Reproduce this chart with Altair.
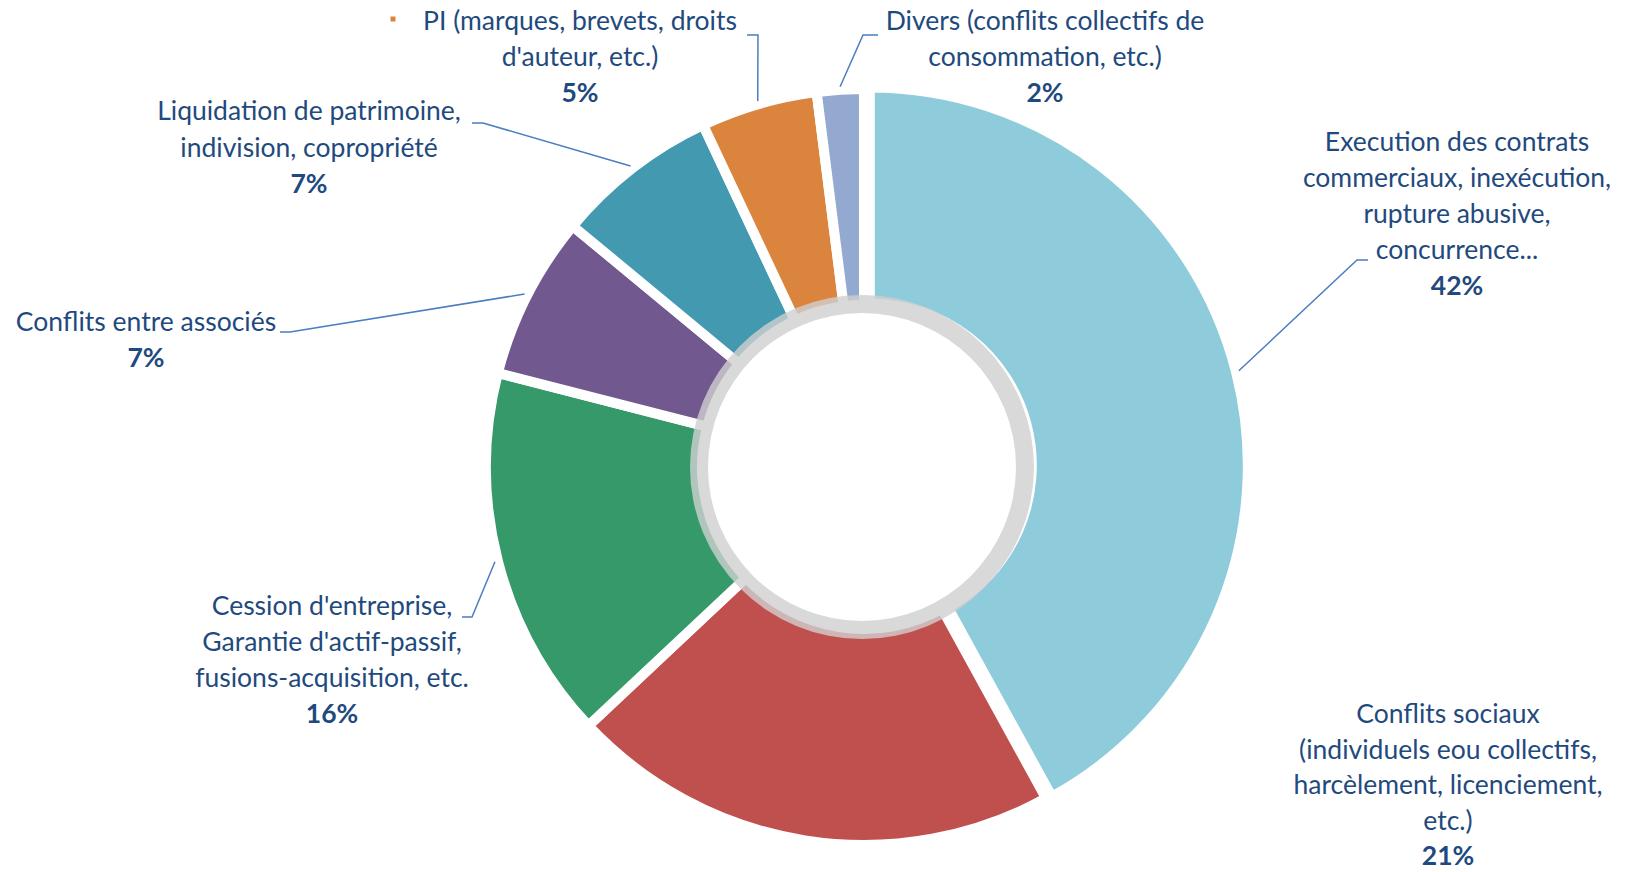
import altair as alt
import pandas as pd
import numpy as np

# ---------------- data ----------------
categories = [
    "Execution des contrats commerciaux, inexécution, rupture abusive, concurrence...",
    "Conflits sociaux (individuels eou collectifs, harcèlement, licenciement, etc.)",
    "Cession d'entreprise, Garantie d'actif-passif, fusions-acquisition, etc.",
    "Conflits entre associés",
    "Liquidation de patrimoine, indivision, copropriété",
    "PI (marques, brevets, droits d'auteur, etc.)",
    "Divers (conflits collectifs de consommation, etc.)",
]
values = [42, 21, 16, 7, 7, 5, 2]
pct_labels = ["42%", "21%", "16%", "7%", "7%", "5%", "2%"]
label_lines = [
    ["Execution des contrats", "commerciaux, inexécution,", "rupture abusive,", "concurrence..."],
    ["Conflits sociaux", "(individuels eou collectifs,", "harcèlement, licenciement,", "etc.)"],
    ["Cession d'entreprise,", "Garantie d'actif-passif,", "fusions-acquisition, etc."],
    ["Conflits entre associés"],
    ["Liquidation de patrimoine,", "indivision, copropriété"],
    ["PI (marques, brevets, droits", "d'auteur, etc.)"],
    ["Divers (conflits collectifs de", "consommation, etc.)"],
]
colors = ["#8ECBDB", "#C0504D", "#35996A", "#71588F", "#4299B0", "#DB843D", "#93A9CF"]

# ---------------- layout ----------------
W, H = 1631, 872
CX, CY = 864, 467
R_OUT, R_IN = 378, 162
EXPLODE = 6
FONT = "Lato"
FS = 26.5
TXT = "#1F4A7E"
LEADER = "#4A7EC0"
label_anchor = [(1457, 143), (1448, 715), (332, 607), (146, 323), (309, 112), (580, 22), (1045, 22)]
line_height = [36, 35.5, 36, 36, 36.5, 36, 36]
leader_elbow = [(1357, 260), None, (472, 617), (290, 332), (483, 123), (758, 35), (863, 35)]
leader_end = [(1368, 260), None, (462, 617), (280, 332), (472, 123), (747, 35), (878, 35)]
bullet_pos = (393, 19)

# ---------------- derived tables ----------------
slices = pd.DataFrame({"idx": range(len(values)), "category": categories, "value": values})

cum = np.cumsum(values)
mid = (cum - np.array(values) / 2) / sum(values) * 2 * np.pi
ex_ang = mid[0]
ex_dx, ex_dy = EXPLODE * np.sin(ex_ang), -EXPLODE * np.cos(ex_ang)

text_rows, pct_rows, line_rows = [], [], []
for i, lines in enumerate(label_lines):
    ax, ay = label_anchor[i]
    lh = line_height[i]
    for j, t in enumerate(lines):
        text_rows.append({"x": ax, "y": ay + j * lh, "t": t})
    pct_rows.append({"x": ax, "y": ay + len(lines) * lh, "t": pct_labels[i]})
    if leader_elbow[i] is not None:
        r = R_OUT + 3
        sx = CX + r * np.sin(mid[i]) + (ex_dx if i == 0 else 0)
        sy = CY - r * np.cos(mid[i]) + (ex_dy if i == 0 else 0)
        pts = [(sx, sy), leader_elbow[i], leader_end[i]]
        for k, (px, py) in enumerate(pts):
            line_rows.append({"g": i, "k": k, "x": float(px), "y": float(py)})

text_df = pd.DataFrame(text_rows)
pct_df = pd.DataFrame(pct_rows)
line_df = pd.DataFrame(line_rows)
bullet_df = pd.DataFrame([{"x": bullet_pos[0], "y": bullet_pos[1]}])

xs = alt.Scale(domain=[0, W], nice=False, zero=False)
ys = alt.Scale(domain=[0, H], nice=False, zero=False, reverse=True)

theta_scale = alt.Scale(domain=[0, 100], range=[0, 2 * np.pi], zero=False, nice=False)
color_scale = alt.Scale(domain=categories, range=colors)

arc_base = (
    alt.Chart(slices)
    .transform_window(cum="sum(value)", sort=[alt.SortField("idx")], frame=[None, 0])
    .transform_calculate(start="datum.cum - datum.value")
)

arcs_rest = arc_base.transform_filter("datum.idx > 0").mark_arc(
    outerRadius=R_OUT, innerRadius=R_IN, stroke="white", strokeWidth=10
).encode(
    theta=alt.Theta("start:Q", scale=theta_scale),
    theta2="cum:Q",
    color=alt.Color("category:N", scale=color_scale, legend=None),
    x=alt.value(CX),
    y=alt.value(CY),
)

arcs_first = arc_base.transform_filter("datum.idx == 0").mark_arc(
    outerRadius=R_OUT, innerRadius=R_IN, stroke="white", strokeWidth=10
).encode(
    theta=alt.Theta("start:Q", scale=theta_scale),
    theta2="cum:Q",
    color=alt.Color("category:N", scale=color_scale, legend=None),
    x=alt.value(float(CX + ex_dx)),
    y=alt.value(float(CY + ex_dy)),
)

ring = alt.Chart(pd.DataFrame({"a": [0]})).mark_arc(
    outerRadius=172, innerRadius=154, color="#D0D0D0", opacity=0.8
).encode(
    theta=alt.value(0),
    theta2=alt.value(2 * np.pi),
    x=alt.value(862),
    y=alt.value(CY),
)

leaders = alt.Chart(line_df).mark_line(color=LEADER, strokeWidth=1.5).encode(
    x=alt.X("x:Q", scale=xs, axis=None),
    y=alt.Y("y:Q", scale=ys, axis=None),
    detail="g:N",
    order="k:Q",
)

labels = alt.Chart(text_df).mark_text(
    font=FONT, fontSize=FS, color=TXT, align="center", baseline="middle"
).encode(
    x=alt.X("x:Q", scale=xs, axis=None),
    y=alt.Y("y:Q", scale=ys, axis=None),
    text="t:N",
)

pcts = alt.Chart(pct_df).mark_text(
    font=FONT, fontSize=FS, fontWeight="bold", color=TXT, align="center", baseline="middle"
).encode(
    x=alt.X("x:Q", scale=xs, axis=None),
    y=alt.Y("y:Q", scale=ys, axis=None),
    text="t:N",
)

bullet = alt.Chart(bullet_df).mark_square(size=25, color="#DB843D", opacity=1).encode(
    x=alt.X("x:Q", scale=xs, axis=None),
    y=alt.Y("y:Q", scale=ys, axis=None),
)

chart = (
    alt.layer(arcs_rest, arcs_first, ring, leaders, labels, pcts, bullet)
    .properties(width=W, height=H, padding=0, autosize=alt.AutoSizeParams(type="none"), background="white")
    .configure_view(stroke=None)
)

chart.save("out.html", embed_options={"renderer": "svg", "actions": False})
